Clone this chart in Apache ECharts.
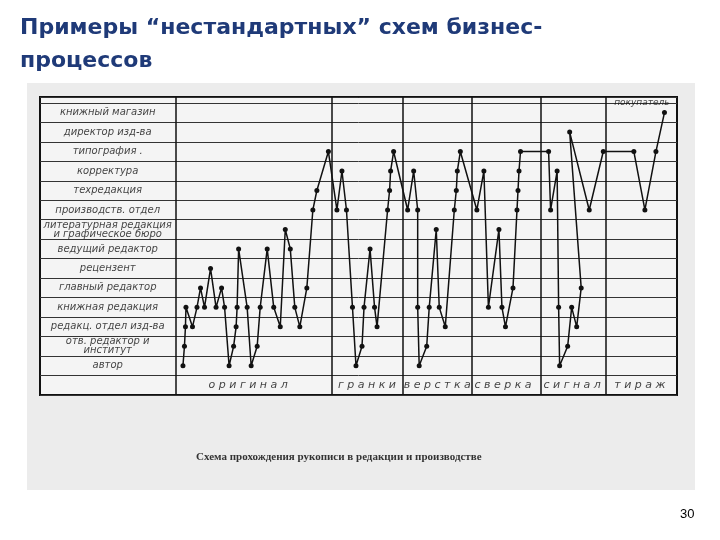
<!DOCTYPE html>
<html><head><meta charset="utf-8">
<script src="https://cdn.jsdelivr.net/npm/echarts@6/dist/echarts.min.js"></script>
<style>html,body{margin:0;padding:0;background:#fff}#c{width:720px;height:540px}</style>
</head><body><div id="c"></div>
<script>
// rows from bottom (level 1) to top (level 14)
const rowLabels = ['автор','отв. редактор и\nинститут','редакц. отдел изд-ва','книжная редакция','главный редактор','рецензент','ведущий редактор','литературная редакция\nи графическое бюро','производств. отдел','техредакция','корректура','типография .','директор изд-ва','книжный магазин'];
const phaseNames = ['оригинал','гранки','верстка','сверка','сигнал','тираж'];
const phaseCenters = [14.5,38.2,52.2,65.3,79.1,92.6];
const phaseDividers = [0,31.2,45.4,59.0,72.9,85.7];
// route: time position and row level
const routeX = [1.5,1.8,2.0,2.1,3.4,4.3,5.0,5.8,7.0,8.1,9.2,9.8,10.7,11.6,12.1,12.3,12.6,14.3,15.1,16.3,16.9,18.3,19.6,20.9,21.9,22.9,23.8,24.8,26.2,27.4,28.2,30.5,32.2,33.2,34.1,35.3,36.0,37.2,37.6,38.8,39.7,40.2,42.3,42.7,42.9,43.5,46.3,47.5,48.3,48.3,48.6,50.1,50.6,52.0,52.6,53.8,55.6,56.0,56.2,56.8,60.1,61.5,62.4,64.5,65.1,65.8,67.3,68.1,68.3,68.5,68.8,74.4,74.8,76.1,76.4,76.6,78.2,79.0,80.0,80.9,78.6,82.5,85.3,91.4,93.6,95.8,97.5];
const routeLevel = [1,2,3,4,3,4,5,4,6,4,5,4,1,2,3,4,7,4,1,2,4,7,4,3,8,7,4,3,5,9,10,12,9,11,9,4,1,2,4,7,4,3,9,10,11,12,9,11,9,4,1,2,4,8,4,3,9,10,11,12,9,11,4,8,4,3,5,9,10,11,12,12,9,11,4,1,2,4,3,5,13,9,12,12,9,12,14];

const route = routeX.map((x,i)=>[x, routeLevel[i]-0.5]);
const chart = echarts.init(document.getElementById('c'));
chart.setOption({
  animation:false,
  backgroundColor:'#fff',
  graphic:[
    {type:'rect',z:-10,shape:{x:27,y:83,width:668,height:407},style:{fill:'#ececec'}},
    {type:'text',left:20,top:12,style:{text:'Примеры “нестандартных” схем бизнес-\nпроцессов',font:'bold 22px "DejaVu Sans"',fill:'#1f3a78',lineHeight:33}},
    {type:'text',left:196,top:452,style:{text:'Схема прохождения рукописи в редакции и производстве',font:'bold 11px "Liberation Serif"',fill:'#333'}},
    {type:'text',left:680,top:508,style:{text:'30',font:'13px "Liberation Sans"',fill:'#000'}}
  ],
  grid:{left:40,right:43,top:97,bottom:145,show:true,borderColor:'#111',borderWidth:2,backgroundColor:'#f4f4f4'},
  xAxis:{type:'value',min:-27,max:100,show:false},
  yAxis:{type:'value',min:-1,max:14.3,interval:1,axisLabel:{show:false},axisLine:{show:false},axisTick:{show:false},
    splitLine:{show:true,lineStyle:{color:'#333',width:1}}},
  series:[
    {type:'line',data:route,symbol:'circle',symbolSize:5,itemStyle:{color:'#111'},lineStyle:{color:'#111',width:1.5},z:5,
     markLine:{silent:true,symbol:'none',label:{show:false},lineStyle:{color:'#111',width:1.5,type:'solid'},data:phaseDividers.map(v=>({xAxis:v}))}},
    {type:'scatter',symbolSize:0,data:rowLabels.map((t,i)=>({value:[-13.5,i+0.5],name:t})),
     label:{show:true,position:'inside',formatter:p=>p.name,fontFamily:'DejaVu Sans',fontStyle:'italic',fontSize:10,color:'#111',lineHeight:9,
       rich:{}}},
    {type:'scatter',symbolSize:0,data:phaseNames.map((t,i)=>({value:[phaseCenters[i],-0.5],name:t.split('').join(' ')})),
     label:{show:true,position:'inside',formatter:p=>p.name,fontFamily:'DejaVu Sans',fontStyle:'italic',fontSize:11,color:'#111'}},
    {type:'scatter',symbolSize:0,data:[{value:[93,14.0],name:'покупатель'}],
     label:{show:true,position:'inside',formatter:p=>p.name,fontFamily:'DejaVu Sans',fontStyle:'italic',fontSize:9,color:'#111'}}
  ]
});
</script></body></html>
